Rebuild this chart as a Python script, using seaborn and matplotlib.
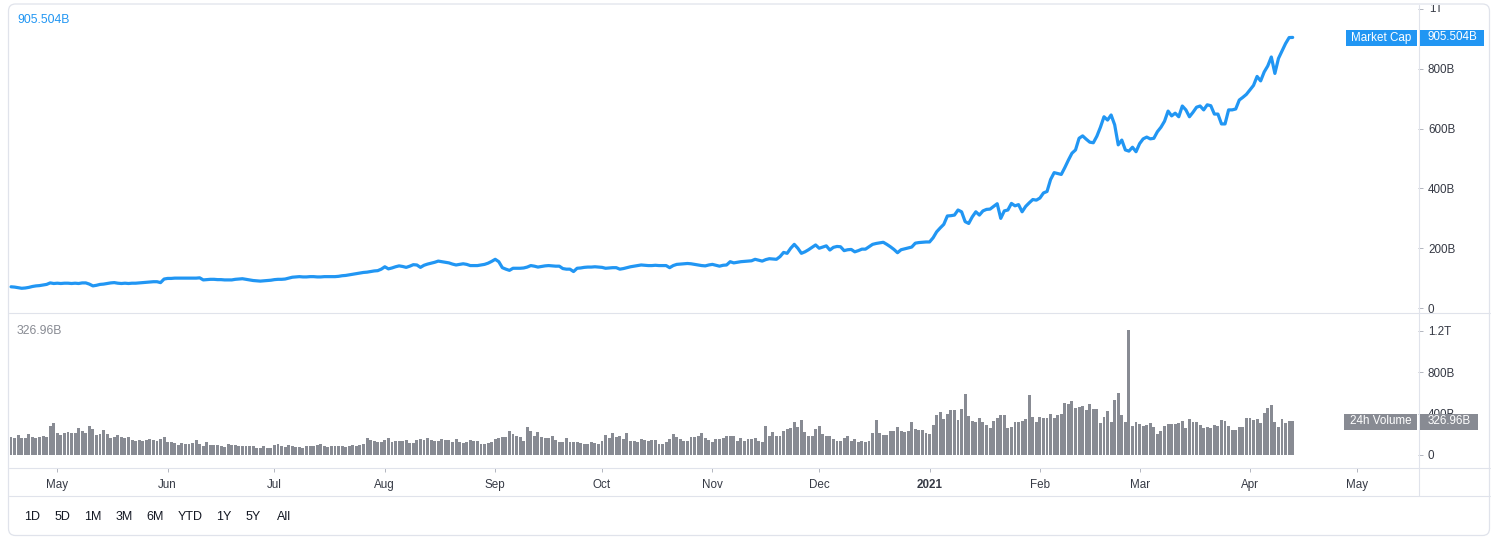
import numpy as np
import pandas as pd
import matplotlib
matplotlib.use("Agg")
import matplotlib.pyplot as plt
import seaborn as sns
from matplotlib.patches import FancyBboxPatch, Rectangle
from matplotlib.lines import Line2D
from matplotlib.transforms import IdentityTransform, Bbox

# ---------------- data ----------------
start_date = "2020-04-18"

# daily total market cap, billions USD
market_cap_b = [
    71, 70, 68, 66, 67, 69, 72, 74, 75, 77, 79, 84, 82,
    83, 82, 83, 83, 82, 83, 82, 84, 84, 80, 74, 76, 79,
    80, 82, 84, 85, 83, 82, 83, 82, 83, 83, 84, 85, 86, 87, 88, 88, 85, 97,
    99, 99, 100, 100, 100, 100, 100, 100, 100, 101,
    94, 95, 96, 96, 95, 95, 94, 94, 94, 96, 97, 98,
    96, 94, 92, 91, 90, 91, 92, 93, 95, 96, 96, 97, 100,
    103, 104, 105, 104, 104, 105, 105, 104, 104, 105, 105, 105, 105, 106, 108, 109,
    111, 113, 115, 117, 119, 120, 122, 124, 125, 130,
    138, 131, 134, 138, 141, 139, 136, 140, 145, 144, 136, 143, 147, 150, 153,
    157, 155, 153, 151, 147, 144, 146, 148, 146, 142, 142, 142, 144, 146, 150, 156, 163, 155, 135, 130,
    126, 133, 133, 133, 134, 137, 142, 140, 137, 139, 141, 142, 141, 140, 140, 132, 130, 130, 122, 133,
    134, 136, 137, 137, 138, 137, 136, 133, 134, 135, 135, 130, 132, 135, 138, 140, 142, 144, 143, 142,
    142, 143, 142, 142, 142, 135, 142, 146, 147, 148, 149, 148, 146, 144, 142, 141, 144, 146, 143, 140,
    143, 144, 155, 151, 153, 155, 156, 157, 158, 163, 160, 157, 162, 165, 164, 163, 172, 186, 183, 200,
    213, 200, 183, 188, 195, 203, 211, 200, 204, 208, 194, 203, 206, 205, 192, 195, 196, 188, 192, 197,
    197, 205, 213, 216, 218, 220, 213, 205, 196, 185, 195, 198, 201, 204, 217, 219, 220, 221, 221, 235,
    255, 268, 280, 308, 309, 311, 328, 322, 289, 283, 305, 322, 311, 325, 330, 331, 340, 349, 300, 325,
    328, 350, 342, 346, 322, 340, 352, 363, 361, 368, 385, 390, 430, 453, 450, 447, 470, 495, 518, 529,
    568, 576, 565, 555, 553, 575, 605, 640, 629, 646, 613, 546, 562, 529, 525, 538, 523, 550, 566, 572,
    566, 568, 590, 605, 625, 659, 643, 652, 640, 676, 663, 640, 655, 672, 676, 663, 680, 677, 649, 649,
    616, 616, 663, 663, 666, 696, 705, 715, 730, 745, 775, 760, 790, 810, 840, 785, 835, 860, 885, 905,
    905.504,
]

# daily 24h volume, billions USD
volume_b = [
    170, 164, 193, 164, 164, 202, 173, 167, 177, 183, 173,
    279, 308,
    212, 193, 212, 221, 209, 215, 260, 231, 215,
    279, 250, 196, 205, 241, 205,
    164, 173, 193, 177, 167, 170, 144, 138,
    144, 138, 144, 154, 148, 135, 154, 170, 128, 125,
    116, 100, 116, 103, 109, 116, 144, 106, 90, 125,
    100, 93, 93, 87, 77, 106, 93, 93, 90, 83,
    90, 83, 87, 67, 71, 87, 64, 64, 96, 106,
    90, 77, 93, 83, 80, 74, 71, 87, 90, 90,
    96, 106, 90, 74, 83, 87, 90, 83, 74,
    90, 96, 90, 96, 106,
    164, 144, 135, 125, 125, 144, 164, 125, 135, 135,
    135, 144, 116, 116, 144, 154, 144, 164, 144, 138,
    138, 154, 144, 144, 125, 154, 125, 116, 125, 144,
    135, 135, 106, 106, 116, 125, 154, 164, 173, 173,
    231, 202, 183, 173, 135, 270, 231, 183, 221, 173,
    164, 164, 183, 144, 125, 125, 164, 125, 125, 125,
    116, 106, 106, 125, 116, 106, 135, 193, 164, 212,
    173, 183, 154, 212, 135, 135, 125, 154, 144, 135,
    144, 144, 106, 106, 125, 154, 202, 173, 154, 135,
    135, 173, 173, 183, 212, 164, 144,
    124, 150, 150, 169, 179, 188, 179, 131, 160, 131,
    150, 150, 160, 131, 121, 284, 188, 226, 179, 188,
    236, 255, 265, 322, 274, 341, 226, 188, 179, 255,
    284, 207, 179, 179, 150, 140, 140, 160, 188, 140,
    150, 121, 140, 121, 140, 217, 341, 217, 198, 198,
    236, 236, 274, 236, 226, 236, 322, 255, 246, 246,
    217, 207, 293, 389, 418, 351, 399, 437, 437, 341,
    447, 590, 380, 332, 322, 360, 322, 293, 265, 332,
    360, 389, 389, 265, 274, 322, 322, 332, 351, 581,
    370, 322, 370, 360, 360,
    399, 360, 389, 399, 504, 494, 523, 456, 466, 475,
    437, 494, 447, 447, 313, 370, 427, 322, 533, 600,
    389, 322, 1212, 284, 322, 303, 284, 293, 313, 274,
    207, 236, 284, 303, 303, 303, 313, 332, 265, 351,
    322, 322, 293, 265, 274, 265, 293, 284, 341, 332,
    284, 246, 246, 274, 274, 360, 360, 341, 351, 313,
    408, 456, 485, 322, 274, 351, 313, 332, 326.96,
]

month_ticks = ["2020-05-01", "2020-06-01", "2020-07-01", "2020-08-01", "2020-09-01",
               "2020-10-01", "2020-11-01", "2020-12-01", "2021-01-01", "2021-02-01",
               "2021-03-01", "2021-04-01", "2021-05-01"]
month_labels = ["May", "Jun", "Jul", "Aug", "Sep", "Oct", "Nov", "Dec",
                "2021", "Feb", "Mar", "Apr", "May"]
cap_ticks_b = [0, 200, 400, 600, 800, 1000]
cap_tick_labels = ["0", "200B", "400B", "600B", "800B", "1T"]
vol_ticks_b = [0, 400, 800, 1200]
vol_tick_labels = ["0", "400B", "800B", "1.2T"]
range_buttons = ["1D", "5D", "1M", "3M", "6M", "YTD", "1Y", "5Y", "All"]
cap_last_label = "905.504B"
vol_last_label = "326.96B"

assert len(market_cap_b) == len(volume_b), (len(market_cap_b), len(volume_b))

# ---------------- style ----------------
sns.set_theme(style="white")
plt.rcParams["font.family"] = ["Liberation Sans", "DejaVu Sans"]

BLUE = "#2196F3"
GREY = "#888b93"
SEP = "#e0e3eb"
TXT = "#363a45"

W, H = 1498, 543
fig = plt.figure(figsize=(W / 100, H / 100), dpi=100)
fig.patch.set_facecolor("white")
PX = IdentityTransform()


def ax_rect(x0, y0, x1, y1):
    return [x0 / W, 1 - y1 / H, (x1 - x0) / W, (y1 - y0) / H]


ax_top = fig.add_axes(ax_rect(8, 5, 1418, 313))
ax_bot = fig.add_axes(ax_rect(8, 313, 1418, 468))

dates = pd.date_range(start_date, periods=len(market_cap_b), freq="D")
day = np.asarray((dates - dates[0]).days)
df = pd.DataFrame({"day": day, "cap": market_cap_b, "vol": volume_b})

sns.lineplot(data=df, x="day", y="cap", ax=ax_top, color=BLUE, linewidth=2.3)
sns.barplot(data=df, x="day", y="vol", ax=ax_bot, native_scale=True, color=GREY,
            saturation=1, width=0.82, errorbar=None, linewidth=0)

xlim = (-0.85, 395.2)
for ax in (ax_top, ax_bot):
    ax.set_xlim(*xlim)
    ax.set_xlabel("")
    ax.set_ylabel("")
    ax.set_facecolor("none")
    for s in ax.spines.values():
        s.set_visible(False)

ax_top.set_ylim(-16.7, 1014)
ax_bot.set_ylim(-126, 1374)

# top axis: the "1T" label is drawn separately so it can be cut by the frame
ax_top.set_xticks([])
ax_top.set_yticks(cap_ticks_b, labels=cap_tick_labels[:-1] + [""])
ax_bot.set_yticks(vol_ticks_b, labels=vol_tick_labels)
for ax in (ax_top, ax_bot):
    ax.yaxis.tick_right()
    ax.tick_params(axis="y", right=True, left=False, labelright=True, labelleft=False,
                   length=3.6, width=0.7, color="#b2b5be", labelsize=8.4,
                   labelcolor=TXT, pad=3.6)

tick_days = [(pd.Timestamp(m) - dates[0]).days for m in month_ticks]
ax_bot.set_xticks(tick_days, labels=month_labels)
ax_bot.tick_params(axis="x", bottom=True, length=3.2, width=0.7, color="#b2b5be",
                   labelsize=8.4, labelcolor=TXT, pad=5)
for lbl in ax_bot.get_xticklabels():
    if lbl.get_text() == "2021":
        lbl.set_fontweight("bold")


# ---------------- chrome ----------------
def hline(y, x0, x1, color=SEP):
    fig.add_artist(Line2D([x0, x1], [H - y, H - y], transform=PX, color=color, lw=0.8))


def vline(x, y0, y1, color=SEP):
    fig.add_artist(Line2D([x, x], [H - y0, H - y1], transform=PX, color=color, lw=0.8))


def text_px(x, y, s, **kw):
    return fig.text(x, H - y, s, transform=PX, **kw)


frame = FancyBboxPatch((8.5, H - 535.5), 1481, 531.5,
                       boxstyle="round,pad=0,rounding_size=7",
                       transform=PX, fill=False, ec=SEP, lw=0.9)
fig.add_artist(frame)
hline(313.3, 8.5, 1489.5)
hline(468.3, 8.5, 1489.5)
hline(496.3, 8.5, 1489.5)
vline(1418.5, 4.5, 496.3)

# top "1T" label, cut at the frame top
top_lbl = text_px(1429, 9.2, cap_tick_labels[-1], color=TXT, fontsize=8.4,
                  ha="left", va="center")
top_lbl.set_clip_box(Bbox([[0, 0], [W, H - 5]]))
top_lbl.set_clip_on(True)


def label_box(x0, x1, yc, color, s, h=16):
    fig.add_artist(Rectangle((x0, H - yc - h / 2), x1 - x0, h, transform=PX,
                             facecolor=color, edgecolor="none", zorder=5))
    text_px((x0 + x1) / 2, yc, s, color="white", fontsize=8.4, ha="center",
            va="center", zorder=6)


text_px(17, 20, cap_last_label, color=BLUE, fontsize=8.8, ha="left", va="center")
text_px(17, 331, vol_last_label, color=GREY, fontsize=8.8, ha="left", va="center")

label_box(1346, 1417, 37.5, BLUE, "Market Cap")
label_box(1420, 1484, 37.5, BLUE, cap_last_label)
label_box(1344, 1417, 421.5, GREY, "24h Volume")
label_box(1420, 1478, 421.5, GREY, vol_last_label)

button_x = [32.5, 62.5, 93, 124.5, 155, 190, 224, 253.5, 284]
for bx, b in zip(button_x, range_buttons):
    text_px(bx, 516.5, b, color="#131722", fontsize=9, ha="center", va="center")

fig.savefig("out.png", dpi=100, facecolor="white")
